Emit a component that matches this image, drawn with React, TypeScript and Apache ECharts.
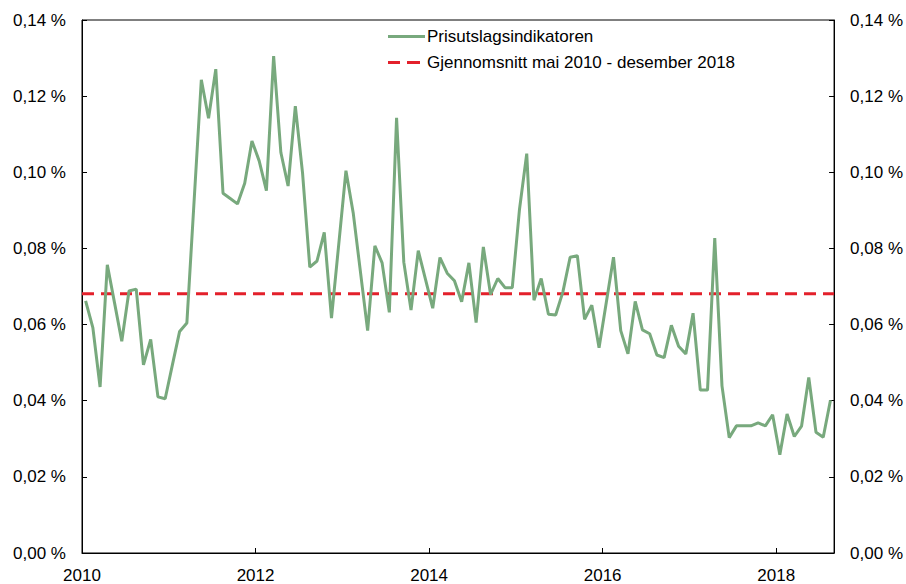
import React, { useEffect, useRef } from "react";
import * as echarts from "echarts";

const startYear = 2010;
const monthCount = 104; // Jan 2010 - Aug 2018

const indicatorValues: number[] = [
  0.0662, 0.0592, 0.0436, 0.0757, 0.0657, 0.0556, 0.0688, 0.0693, 0.0494, 0.0561, 0.0410, 0.0405,
  0.0494, 0.0582, 0.0604, 0.0924, 0.1243, 0.1142, 0.1271, 0.0945, 0.0931, 0.0917, 0.0971, 0.1082,
  0.1030, 0.0952, 0.1305, 0.1052, 0.0964, 0.1174, 0.0998, 0.0751, 0.0767, 0.0842, 0.0617, 0.0810,
  0.1004, 0.0894, 0.0739, 0.0584, 0.0807, 0.0762, 0.0632, 0.1143, 0.0764, 0.0638, 0.0794, 0.0719,
  0.0643, 0.0776, 0.0735, 0.0715, 0.0660, 0.0762, 0.0605, 0.0804, 0.0679, 0.0721, 0.0697, 0.0697,
  0.0903, 0.1049, 0.0664, 0.0721, 0.0627, 0.0625, 0.0686, 0.0777, 0.0781, 0.0614, 0.0651, 0.0539,
  0.0658, 0.0777, 0.0584, 0.0523, 0.0661, 0.0586, 0.0576, 0.0520, 0.0513, 0.0598, 0.0543, 0.0523,
  0.0630, 0.0428, 0.0428, 0.0827, 0.0439, 0.0303, 0.0334, 0.0334, 0.0334, 0.0342, 0.0334, 0.0363,
  0.0258, 0.0365, 0.0306, 0.0333, 0.0461, 0.0317, 0.0304, 0.0401,
];

const averageValue = 0.0681;

const seriesNames = ["Prisutslagsindikatoren", "Gjennomsnitt mai 2010 - desember 2018"];

const xMin = startYear;
const xMax = startYear + monthCount / 12;

const FONT = "Liberation Sans, Arial, sans-serif";
const GREEN = "#78A97D";
const RED = "#E3202B";

export default function App() {
  const ref = useRef<HTMLDivElement>(null);

  useEffect(() => {
    if (!ref.current) return;
    const chart = echarts.init(ref.current, undefined, { renderer: "svg" });

    const lineData = indicatorValues.map((v, i) => [startYear + (i + 0.5) / 12, v]);
    const avgData = [
      [xMin, averageValue],
      [xMax, averageValue],
    ];

    const yFmt = (v: number) => v.toFixed(2).replace(".", ",") + " %";

    const yAxisBase = {
      type: "value",
      min: 0,
      max: 0.14,
      interval: 0.02,
      splitLine: { show: false },
      axisLine: { show: true, lineStyle: { color: "#000", width: 1 } },
      axisTick: { show: true, inside: true, length: 5, lineStyle: { color: "#000" } },
    };

    chart.setOption({
      animation: false,
      backgroundColor: "#fff",
      textStyle: { fontFamily: FONT },
      grid: {
        left: 82,
        right: 71,
        top: 20,
        bottom: 27,
        show: true,
        borderColor: "#000",
        borderWidth: 1,
        containLabel: false,
      },
      legend: {
        orient: "vertical",
        left: 388,
        top: 28,
        padding: 0,
        itemWidth: 37,
        itemHeight: 3,
        itemGap: 9,
        textStyle: { fontSize: 17, color: "#000", fontFamily: FONT, padding: [0, 0, 0, -3] },
        data: [
          { name: seriesNames[0], icon: "path://M0,0H37V3H0Z", itemStyle: { color: GREEN } },
          {
            name: seriesNames[1],
            icon: "path://M0,0H12V3H0ZM19,0H32V3H19ZM37,0L37,3",
            itemStyle: { color: RED },
          },
        ],
      },
      xAxis: {
        type: "value",
        min: xMin,
        max: xMax,
        interval: 2,
        splitLine: { show: false },
        axisLine: { show: true, lineStyle: { color: "#000", width: 1 } },
        axisTick: { show: true, inside: true, length: 5, lineStyle: { color: "#000" } },
        axisLabel: {
          show: true,
          fontSize: 17,
          color: "#000",
          fontFamily: FONT,
          margin: 14,
          showMaxLabel: false,
          formatter: (v: number) => String(Math.round(v)),
        },
      },
      yAxis: [
        {
          ...yAxisBase,
          position: "left",
          axisLabel: { fontSize: 17, color: "#000", fontFamily: FONT, margin: 16, formatter: yFmt },
        },
        {
          ...yAxisBase,
          position: "right",
          axisLabel: { fontSize: 17, color: "#000", fontFamily: FONT, margin: 16, formatter: yFmt },
        },
      ],
      series: [
        {
          name: seriesNames[0],
          type: "line",
          data: lineData,
          symbol: "none",
          lineStyle: { color: GREEN, width: 3 },
          itemStyle: { color: GREEN },
          z: 3,
        },
        {
          name: seriesNames[1],
          type: "line",
          data: avgData,
          symbol: "none",
          lineStyle: { color: RED, width: 3, type: [12, 7] },
          itemStyle: { color: RED },
          z: 2,
        },
      ],
    });

    return () => chart.dispose();
  }, []);

  return (
    <div
      ref={ref}
      style={{ position: "fixed", left: 0, top: 0, width: 906, height: 584, background: "#fff" }}
    />
  );
}
